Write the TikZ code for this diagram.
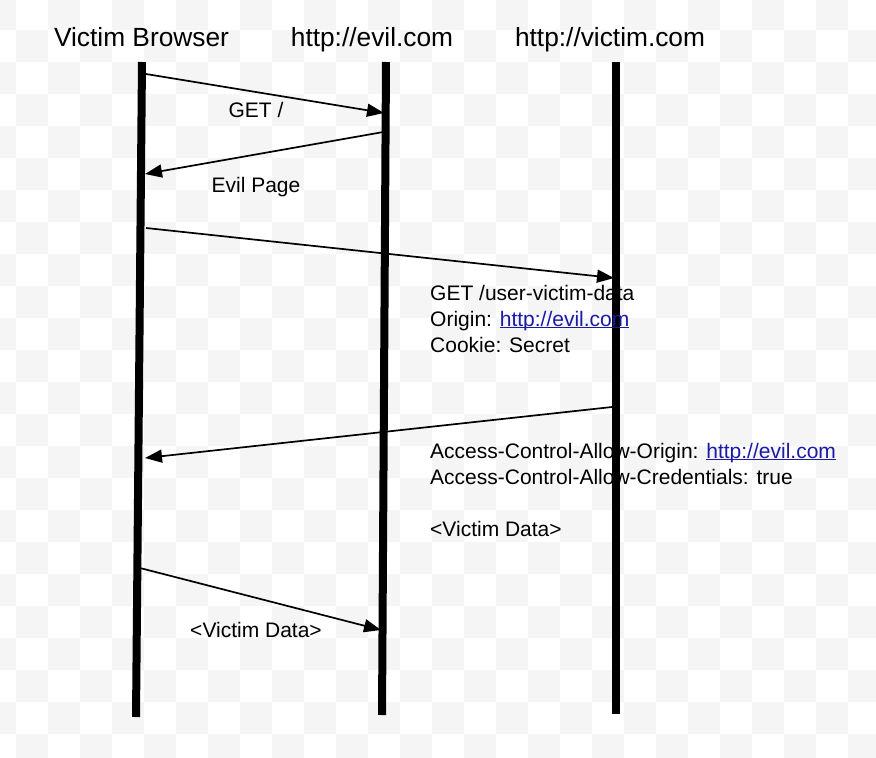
\documentclass[tikz,border=0pt]{standalone}
\usepackage{fontspec}
\setmainfont{Liberation Sans}
\definecolor{linkblue}{HTML}{1A1AA6}
\definecolor{checker}{HTML}{F5F5F5}
\usetikzlibrary{arrows.meta}
% underlined web link, underline sits just below the baseline
\newcommand{\weblink}[1]{\setbox0\hbox{#1}\textcolor{linkblue}{\rlap{\rule[-2.2pt]{\wd0}{1.3pt}}\box0}}

\begin{document}
\begin{tikzpicture}[x=1pt, y=-1pt,
  lifeline/.style={line width=8pt},
  msg/.style={line width=1.7pt, -{Triangle[length=17pt, width=13pt]}},
  actor/.style={font=\fontsize{26.3}{30}\selectfont, inner sep=0pt, anchor=base},
  msglabel/.style={font=\fontsize{21}{26}\selectfont, inner sep=0pt, anchor=base},
  header/.style={msglabel, anchor=base west}]
  \useasboundingbox (0,0) rectangle (876,758);

  % transparency checkerboard
  \begin{scope}
    \clip (0,0) rectangle (876,758);
    \foreach \c in {0,...,27}
      \foreach \r in {0,...,23} {
        \pgfmathparse{int(mod(\c+\r,2))}
        \ifnum\pgfmathresult=0 \fill[checker] (32*\c-16, 32*\r-2) rectangle +(32,32); \fi
      }
  \end{scope}

  % actors
  \node[actor] (browser) at (141.5,46) {Victim Browser};
  \node[actor] (evil) at (372,46) {http://evil.com};
  \node[actor] (victim) at (610,46) {http://victim.com};

  % lifelines
  \coordinate (browser-top) at (142,62);  \coordinate (browser-bot) at (136,717);
  \coordinate (evil-top) at (386,62);     \coordinate (evil-bot) at (382,715);
  \coordinate (victim-top) at (616,62);   \coordinate (victim-bot) at (616,714);
  \foreach \who in {browser, evil, victim}
    \draw[lifeline] (\who-top) -- (\who-bot);

  % message ends
  \foreach \m/\sx/\sy/\ex/\ey in {
    get/146/74/384/113,
    page/389/131/145/174,
    data/146/228/614/278,
    reply/612/407/145/458,
    leak/140/568/381/630} {
    \coordinate (\m-from) at (\sx,\sy);
    \coordinate (\m-to) at (\ex,\ey);
    \draw[msg] (\m-from) -- (\m-to);
  }

  % labels
  \node[msglabel] (get-lbl) at (256,117) {GET /};
  \node[msglabel] (page-lbl) at (256,192) {Evil Page};
  \node[msglabel] (leak-lbl) at (256,637) {<Victim Data>};

  \node[header] (req1) at (430,300) {GET /user-victim-data};
  \node[header] (req2) at (430,326) {Origin: \weblink{http://evil.com}};
  \node[header] (req3) at (430,352) {Cookie: Secret};

  \node[header] (resp1) at (430,458) {Access-Control-Allow-Origin: \weblink{http://evil.com}};
  \node[header] (resp2) at (430,484) {Access-Control-Allow-Credentials: true};
  \node[header] (resp3) at (430,536) {<Victim Data>};
\end{tikzpicture}
\end{document}
